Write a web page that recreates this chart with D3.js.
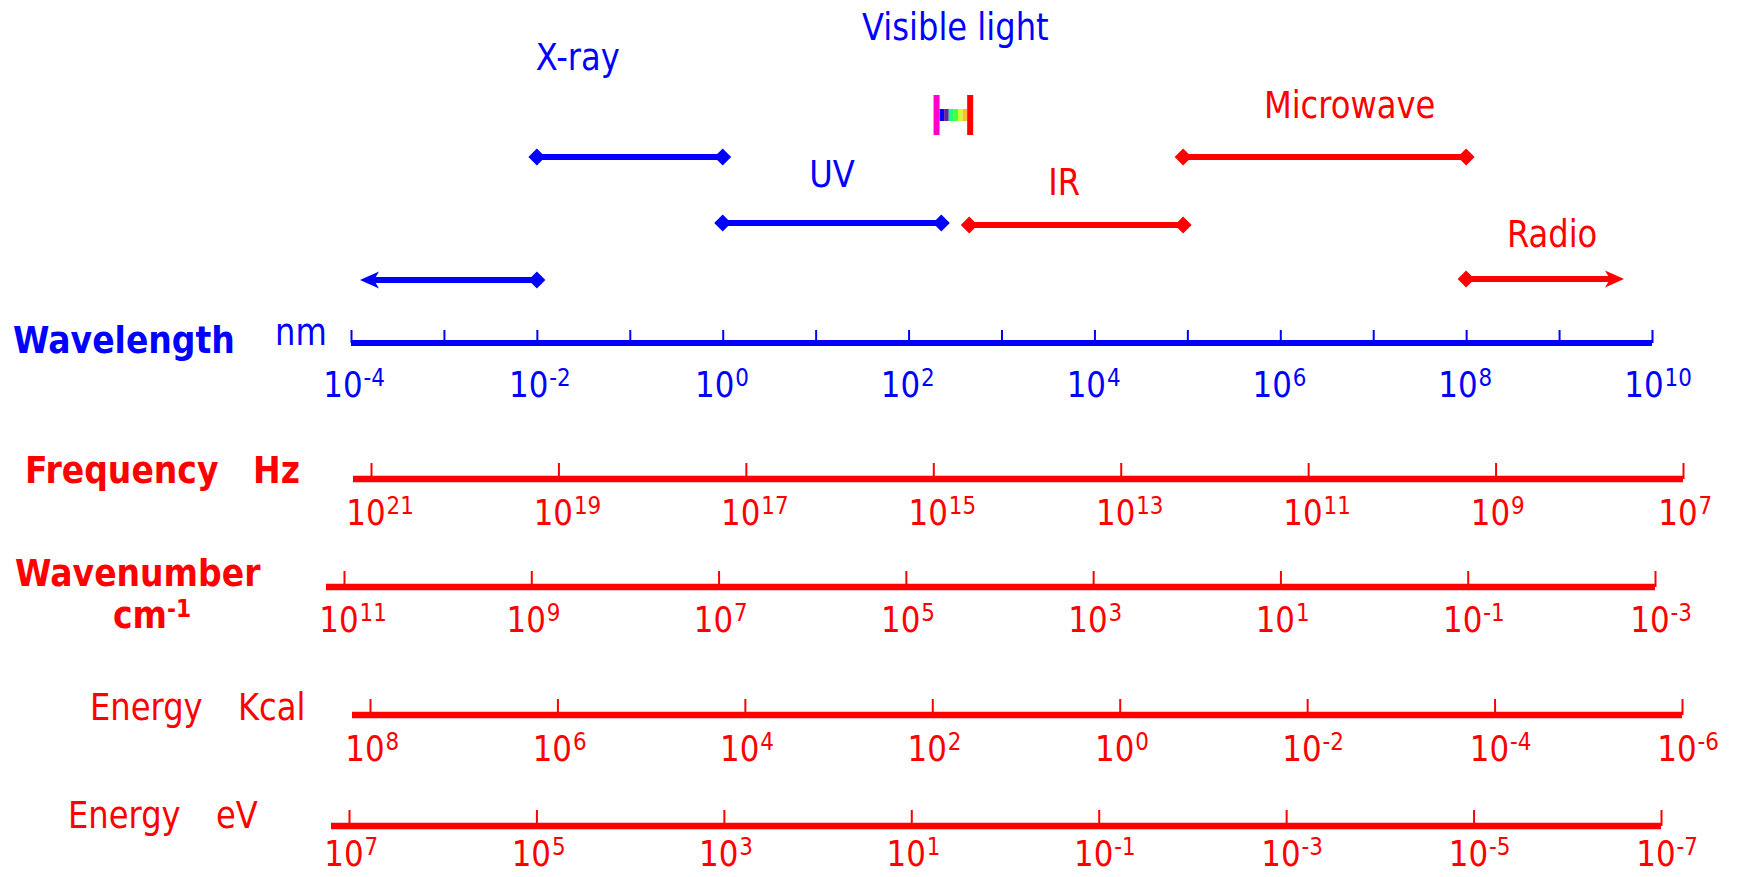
<!DOCTYPE html>
<html><head><meta charset="utf-8">
<script src="https://cdn.jsdelivr.net/npm/d3@7"></script>
<style>
body{margin:0;background:#fff}
svg{display:block}
text{font-family:'DejaVu Sans',sans-serif}
</style>
</head><body>
<svg id="chart" width="1741" height="877"></svg>
<script>
// ================= DATA =================
// Wavelength axis (nm), exponents of 10
const wavelengthTickExps  = [-4,-3,-2,-1,0,1,2,3,4,5,6,7,8,9,10];
const wavelengthLabelExps = [-4,-2,0,2,4,6,8,10];

// Other scales (exponents of 10)
const frequencyExps  = [21,19,17,15,13,11,9,7];
const wavenumberExps = [11,9,7,5,3,1,-1,-3];
const kcalExps       = [8,6,4,2,0,-2,-4,-6];
const evExps         = [7,5,3,1,-1,-3,-5,-7];

// Spectral regions on the wavelength axis (nm)
const bandNames  = ["Gamma", "X-ray", "UV", "IR", "Microwave", "Radio"];
const bandStart  = [1.25e-4, 1e-2, 1,   450, 9e4, 1e8];
const bandEnd    = [1e-2,    1,    225, 9e4, 1e8, 5e9];
const bandLabels = ["", "X-ray", "UV", "IR", "Microwave", "Radio"];

// Visible light range (nm)
const visibleRange = [200, 460];

// ================= STYLE / LAYOUT =================
const BLUE = '#0000ff', RED = '#ff0000';
const SX = 0.87;           // horizontal condensation of text
const svg = d3.select('#chart');

const bandStyle = {
  "Gamma":     {color: BLUE, y: 280, startMark: 'arrow',   endMark: 'diamond', labelDx: 0,   labelY: 0},
  "X-ray":     {color: BLUE, y: 157, startMark: 'diamond', endMark: 'diamond', labelDx: -52, labelY: 70},
  "UV":        {color: BLUE, y: 223, startMark: 'diamond', endMark: 'diamond', labelDx: 0,   labelY: 187},
  "IR":        {color: RED,  y: 225, startMark: 'diamond', endMark: 'diamond', labelDx: -12, labelY: 195},
  "Microwave": {color: RED,  y: 157, startMark: 'diamond', endMark: 'diamond', labelDx: 25,  labelY: 118},
  "Radio":     {color: RED,  y: 279, startMark: 'diamond', endMark: 'arrow',   labelDx: 7,   labelY: 247}
};
const spectrumColors = ['#0000ff','#6a1ea0','#1aff7a','#44ff44','#ccff33','#ffbb33'];

function label(g, txt, x, y, o) {
  return g.append('text')
    .attr('transform', `translate(${x},${y}) scale(${o.sx || SX},1)`)
    .attr('text-anchor', o.anchor || 'start')
    .attr('font-size', o.size || 37)
    .attr('font-weight', o.bold ? 'bold' : 'normal')
    .attr('fill', o.color)
    .text(txt);
}

function powLabel(g, exp, cx, y, color) {
  const t = g.append('text')
    .attr('transform', `translate(${cx},${y}) scale(0.86,1)`)
    .attr('font-size', 36).attr('fill', color);
  t.append('tspan').attr('x', -23).text('10');
  t.append('tspan').attr('dx', 1).attr('dy', -11).attr('font-size', 25).text(String(exp));
}

// ================= WAVELENGTH AXIS =================
const xW = d3.scaleLog().domain([1e-4, 1e10]).range([351, 1652]);
const wlY = 343;

const gW = svg.append('g').attr('transform', `translate(0,${wlY})`)
  .call(d3.axisTop(xW).tickValues(wavelengthTickExps.map(e => Math.pow(10, e)))
        .tickSize(13).tickSizeOuter(0).tickFormat(''));
gW.select('.domain').remove();
gW.selectAll('.tick line').attr('stroke', BLUE).attr('stroke-width', 2);
svg.append('line').attr('x1', xW.range()[0]).attr('x2', xW.range()[1])
  .attr('y1', wlY).attr('y2', wlY).attr('stroke', BLUE).attr('stroke-width', 6);

wavelengthLabelExps.forEach(e => powLabel(svg, e, xW(Math.pow(10, e)) - 8, 397, BLUE));

label(svg, 'Wavelength', 13, 353, {bold: true, size: 38, color: BLUE});
label(svg, 'nm', 275, 345, {size: 37, color: BLUE});

// ================= BANDS =================
const diamond = 'M0,-8.5L8.5,0L0,8.5L-8.5,0Z';
const arrowRight = 'M0,0L-19,-8.5L-14,0L-19,8.5Z';

bandNames.forEach((name, i) => {
  const st = bandStyle[name];
  const x0 = xW(bandStart[i]), x1 = xW(bandEnd[i]);
  const lx0 = st.startMark === 'arrow' ? x0 + 14 : x0;
  const lx1 = st.endMark === 'arrow' ? x1 - 14 : x1;
  svg.append('line').attr('x1', lx0).attr('x2', lx1).attr('y1', st.y).attr('y2', st.y)
    .attr('stroke', st.color).attr('stroke-width', 6);
  [[x0, st.startMark, 180], [x1, st.endMark, 0]].forEach(([x, m, rot]) => {
    svg.append('path')
      .attr('d', m === 'arrow' ? arrowRight : diamond)
      .attr('transform', `translate(${x},${st.y}) rotate(${m === 'arrow' ? rot : 0})`)
      .attr('fill', st.color);
  });
  if (bandLabels[i]) {
    const cx = xW(Math.sqrt(bandStart[i] * bandEnd[i])) + st.labelDx;
    label(svg, bandLabels[i], cx, st.labelY, {anchor: 'middle', color: st.color});
  }
});

// ================= VISIBLE LIGHT =================
const vx0 = xW(visibleRange[0]), vx1 = xW(visibleRange[1]);
const vy = 115;
const segX = d3.scaleLinear().domain([0, spectrumColors.length]).range([vx0 + 3, vx1 - 3]);
spectrumColors.forEach((c, i) => {
  svg.append('rect').attr('x', segX(i)).attr('width', segX(i + 1) - segX(i))
    .attr('y', vy - 6).attr('height', 12).attr('fill', c);
});
svg.append('rect').attr('x', vx0 - 3).attr('width', 6).attr('y', vy - 20).attr('height', 40).attr('fill', '#ff00cc');
svg.append('rect').attr('x', vx1 - 3).attr('width', 6).attr('y', vy - 20).attr('height', 40).attr('fill', RED);
label(svg, 'Visible light', (vx0 + vx1) / 2 + 2, 40, {anchor: 'middle', color: BLUE});

// ================= RED AXES =================
const redAxes = [
  {exps: frequencyExps,  y: 479, range: [371, 1683], labelY: 525},
  {exps: wavenumberExps, y: 587, range: [344, 1655], labelY: 632},
  {exps: kcalExps,       y: 715, range: [370, 1682], labelY: 761},
  {exps: evExps,         y: 826, range: [349, 1661], labelY: 866}
];
redAxes.forEach(ax => {
  const sc = d3.scaleLog()
    .domain([Math.pow(10, ax.exps[0]), Math.pow(10, ax.exps[ax.exps.length - 1])])
    .range(ax.range);
  const g = svg.append('g').attr('transform', `translate(0,${ax.y})`)
    .call(d3.axisTop(sc).tickValues(ax.exps.map(e => Math.pow(10, e)))
          .tickSize(16).tickSizeOuter(0).tickFormat(''));
  g.select('.domain').remove();
  g.selectAll('.tick line').attr('stroke', RED).attr('stroke-width', 2);
  svg.append('line').attr('x1', ax.range[0] - 18).attr('x2', ax.range[1])
    .attr('y1', ax.y).attr('y2', ax.y).attr('stroke', RED).attr('stroke-width', 6.5);
  ax.exps.forEach(e => powLabel(svg, e, sc(Math.pow(10, e)) - 5, ax.labelY, RED));
});

// ================= AXIS TITLES =================
label(svg, 'Frequency', 25, 483, {bold: true, size: 38, color: RED});
label(svg, 'Hz', 253, 483, {bold: true, size: 38, color: RED});
label(svg, 'Wavenumber', 15, 586, {bold: true, size: 38, color: RED});
const cm = svg.append('text')
  .attr('transform', `translate(113,628) scale(${SX},1)`)
  .attr('font-size', 38).attr('font-weight', 'bold').attr('fill', RED);
cm.append('tspan').text('cm');
cm.append('tspan').attr('dy', -11).attr('font-size', 25).text('-1');
label(svg, 'Energy', 90, 720, {size: 37, color: RED});
label(svg, 'Kcal', 238, 720, {size: 37, color: RED});
label(svg, 'Energy', 68, 828, {size: 37, color: RED});
label(svg, 'eV', 216, 828, {size: 37, color: RED});
</script>
</body></html>
